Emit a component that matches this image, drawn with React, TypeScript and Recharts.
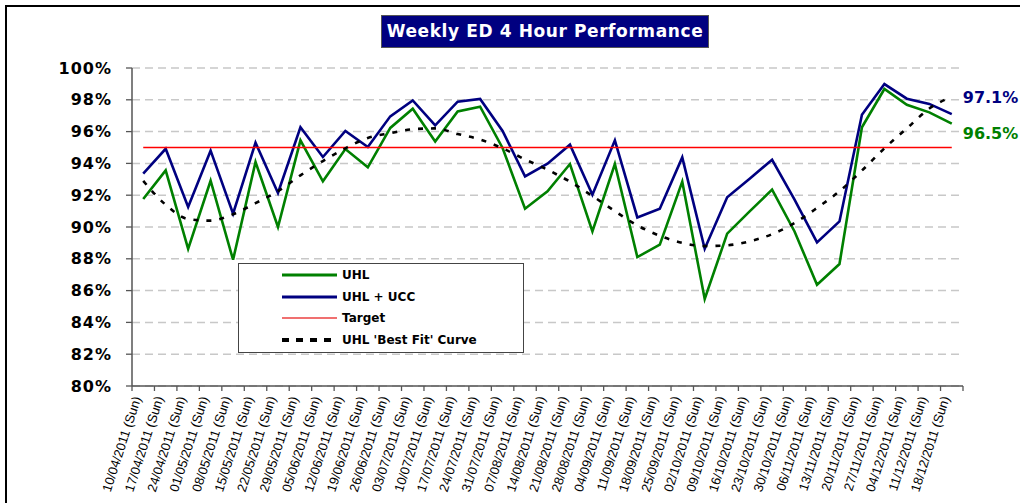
import React from 'react';
import { LineChart, Line, XAxis, YAxis, CartesianGrid, Legend, LabelList } from 'recharts';

const weeks = [
  '10/04/2011', '17/04/2011', '24/04/2011', '01/05/2011', '08/05/2011', '15/05/2011',
  '22/05/2011', '29/05/2011', '05/06/2011', '12/06/2011', '19/06/2011', '26/06/2011',
  '03/07/2011', '10/07/2011', '17/07/2011', '24/07/2011', '31/07/2011', '07/08/2011',
  '14/08/2011', '21/08/2011', '28/08/2011', '04/09/2011', '11/09/2011', '18/09/2011',
  '25/09/2011', '02/10/2011', '09/10/2011', '16/10/2011', '23/10/2011', '30/10/2011',
  '06/11/2011', '13/11/2011', '20/11/2011', '27/11/2011', '04/12/2011', '11/12/2011',
  '18/12/2011',
];

const uhl = [
  91.76, 93.56, 88.63, 92.91, 87.94, 94.09, 90.0, 95.45, 92.87, 94.9,
  93.75, 96.23, 97.44, 95.38, 97.27, 97.57, 94.97, 91.15, 92.24, 93.96,
  89.72, 93.96, 88.11, 88.89, 92.85, 85.47, 89.58, 90.98, 92.35, 89.72,
  86.37, 87.67, 96.27, 98.68, 97.69, 97.21, 96.5,
];

const uhlUcc = [
  93.35, 94.92, 91.26, 94.8, 90.84, 95.3, 92.14, 96.27, 94.4, 96.04,
  95.03, 96.96, 97.96, 96.39, 97.88, 98.05, 96.04, 93.18, 93.98, 95.18,
  92.03, 95.45, 90.6, 91.15, 94.38, 88.63, 91.87, 93.04, 94.23, 91.72,
  89.03, 90.35, 97.06, 98.99, 98.07, 97.74, 97.1,
];

const bestFit = [
  92.9, 91.4, 90.5, 90.4, 90.8, 91.5, 92.25, 93.25, 94.15, 94.95,
  95.6, 95.9, 96.15, 96.2, 95.85, 95.5, 94.95, 94.25, 93.6, 92.85,
  91.95, 91.0, 90.1, 89.45, 89.0, 88.8, 88.85, 89.1, 89.55, 90.25,
  91.2, 92.25, 93.55, 94.95, 96.2, 97.45, 98.2,
];

const targetValue = 95;

const yTicks = [80, 82, 84, 86, 88, 90, 92, 94, 96, 98, 100];

const legendOrder = ['UHL', 'UHL + UCC', 'Target', "UHL 'Best Fit' Curve"];

const data = weeks.map((w, i) => ({
  idx: i,
  week: w,
  uhl: uhl[i],
  ucc: uhlUcc[i],
  target: targetValue,
  fit: bestFit[i],
}));

const xTicks: number[] = [];
weeks.forEach((_, i) => {
  xTicks.push(i - 0.5);
  xTicks.push(i);
});
xTicks.push(weeks.length - 0.5);

const GREEN = '#008000';
const NAVY = '#000080';
const RED = '#ff0000';

const seriesStyle: Record<string, { color: string; width: number; dash?: string }> = {
  'UHL': { color: GREEN, width: 3 },
  'UHL + UCC': { color: NAVY, width: 3 },
  'Target': { color: '#f07070', width: 2 },
  "UHL 'Best Fit' Curve": { color: '#000', width: 4, dash: '7 7' },
};

const XTick = (props: any) => {
  const { x, y, payload } = props;
  const v = payload.value;
  if (Number.isInteger(v)) {
    const ax = x - 2;
    const ay = y + 12;
    return (
      <text
        x={ax}
        y={ay}
        transform={`rotate(-72 ${ax} ${ay})`}
        textAnchor="end"
        fontFamily="'Liberation Sans', Arial, sans-serif"
        fontSize={13}
        fill="#000"
      >
        {`${weeks[v]} (Sun)`}
      </text>
    );
  }
  return <line x1={x} y1={y} x2={x} y2={y + 5} stroke="#555" strokeWidth={1.3} />;
};

const renderLegend = (props: any) => {
  const payload = [...(props.payload || [])].sort(
    (a: any, b: any) => legendOrder.indexOf(a.value) - legendOrder.indexOf(b.value)
  );
  return (
    <div
      style={{
        width: 286,
        height: 90,
        border: '1.5px solid #444',
        background: '#fff',
        boxSizing: 'border-box',
        position: 'relative',
      }}
    >
      {payload.map((p: any, i: number) => {
        const st = seriesStyle[p.value] || { color: p.color, width: 2 };
        return (
          <div
            key={p.value}
            style={{
              position: 'absolute',
              left: 43,
              top: 2 + i * 21.7,
              height: 18,
              display: 'flex',
              alignItems: 'center',
            }}
          >
            <svg width={55} height={8}>
              <line
                x1={0}
                y1={4}
                x2={55}
                y2={4}
                stroke={st.color}
                strokeWidth={st.width}
                strokeDasharray={st.dash}
              />
            </svg>
            <span
              style={{
                marginLeft: 5,
                fontFamily: "'DejaVu Sans', sans-serif",
                fontWeight: 'bold',
                fontSize: 12,
                color: '#000',
                whiteSpace: 'nowrap',
              }}
            >
              {p.value}
            </span>
          </div>
        );
      })}
    </div>
  );
};

const makeEndLabel = (color: string, dy: number) => (props: any) => {
  const { x, y, value, index } = props;
  if (index !== weeks.length - 1) return null;
  return (
    <text
      x={x + 11}
      y={y + dy}
      dominantBaseline="central"
      fill={color}
      fontFamily="'DejaVu Sans', sans-serif"
      fontWeight="bold"
      fontSize={16}
    >
      {`${Number(value).toFixed(1)}%`}
    </text>
  );
};

export default function App() {
  return (
    <div
      style={{
        position: 'fixed',
        left: 0,
        top: 0,
        width: 1020,
        height: 503,
        overflow: 'hidden',
        background: '#fff',
      }}
    >
      <div
        style={{
          position: 'absolute',
          left: 5,
          top: 5,
          width: 1040,
          height: 600,
          border: '2px solid #000',
          boxSizing: 'border-box',
        }}
      />
      <div
        style={{
          position: 'absolute',
          left: 381,
          top: 15,
          width: 328,
          height: 33,
          background: '#000080',
          border: '1px solid #555',
          boxSizing: 'border-box',
          color: '#fff',
          fontFamily: "'DejaVu Sans', sans-serif",
          fontWeight: 'bold',
          fontSize: 17,
          letterSpacing: 0.6,
          lineHeight: '31px',
          textAlign: 'center',
          whiteSpace: 'nowrap',
        }}
      >
        Weekly ED 4 Hour Performance
      </div>
      <div style={{ position: 'absolute', left: 0, top: 0 }}>
        <LineChart
          width={1020}
          height={540}
          data={data}
          margin={{ top: 68, right: 57, bottom: 0, left: 0 }}
        >
          <CartesianGrid
            vertical={false}
            stroke="#c8c8c8"
            strokeDasharray="8 5"
            strokeWidth={1.5}
          />
          <XAxis
            dataKey="idx"
            type="number"
            domain={[-0.5, weeks.length - 0.5]}
            ticks={xTicks}
            interval={0}
            height={154}
            tickLine={false}
            tickSize={0}
            tickMargin={0}
            axisLine={{ stroke: '#555', strokeWidth: 1.5 }}
            tick={<XTick />}
          />
          <YAxis
            type="number"
            domain={[80, 100]}
            ticks={yTicks}
            interval={0}
            width={132}
            tickSize={6}
            tickMargin={14}
            tickFormatter={(v: number) => `${v}%`}
            axisLine={{ stroke: '#555', strokeWidth: 1.5 }}
            tickLine={{ stroke: '#555', strokeWidth: 1.3 }}
            tick={{
              fontFamily: "'DejaVu Sans', sans-serif",
              fontWeight: 'bold',
              fontSize: 16,
              fill: '#000',
              letterSpacing: 1,
            }}
          />
          <Legend
            layout="vertical"
            align="center"
            verticalAlign="middle"
            content={renderLegend}
            wrapperStyle={{ left: 238, top: 263, width: 286, height: 90 }}
          />
          <Line
            name="UHL"
            dataKey="uhl"
            stroke={GREEN}
            strokeWidth={2.6}
            dot={false}
            activeDot={false}
            isAnimationActive={false}
            type="linear"
          >
            <LabelList dataKey="uhl" content={makeEndLabel(GREEN, 10)} />
          </Line>
          <Line
            name="UHL + UCC"
            dataKey="ucc"
            stroke={NAVY}
            strokeWidth={2.6}
            dot={false}
            activeDot={false}
            isAnimationActive={false}
            type="linear"
          >
            <LabelList dataKey="ucc" content={makeEndLabel(NAVY, -17)} />
          </Line>
          <Line
            name="Target"
            dataKey="target"
            stroke={RED}
            strokeOpacity={1}
            strokeWidth={1.4}
            dot={false}
            activeDot={false}
            isAnimationActive={false}
            type="linear"
          />
          <Line
            name="UHL 'Best Fit' Curve"
            dataKey="fit"
            stroke="#000"
            strokeWidth={2.6}
            strokeDasharray="5 8"
            dot={false}
            activeDot={false}
            isAnimationActive={false}
            type="monotone"
          />
        </LineChart>
      </div>
    </div>
  );
}
